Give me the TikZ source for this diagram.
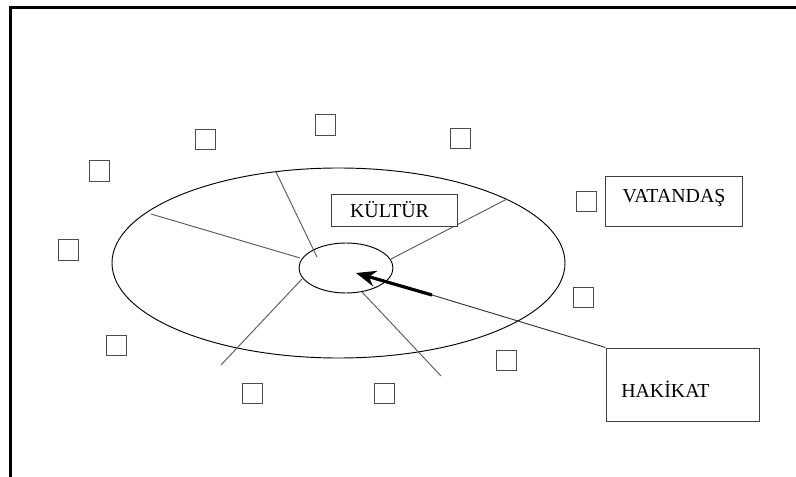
\documentclass[tikz,border=0pt]{standalone}
\usepackage{fontspec}
\setmainfont{Liberation Serif}
\usetikzlibrary{shapes.geometric,arrows.meta}
\begin{document}
\begin{tikzpicture}[x=0.75pt,y=-0.75pt,
  sq/.style={draw=black!70,line width=0.7pt,minimum width=15pt,minimum height=15.5pt,inner sep=0pt},
  box/.style={draw=black!75,line width=0.7pt,inner sep=0pt},
  lbl/.style={inner sep=0pt,font=\fontsize{14.9}{17}\selectfont},
  spoke/.style={draw=black!65,line width=0.7pt},
  ell/.style={ellipse,draw=black,line width=0.7pt,inner sep=0pt}]
\useasboundingbox (0,0) rectangle (796,477);
% frame
\coordinate (fbl) at (10.8,477);
\coordinate (ftl) at (10.8,7.5);
\coordinate (ftr) at (796,7.5);
\draw[line width=2.3pt] (fbl) -- (ftl) -- (ftr);
% ellipses
\node[ell,minimum width=339.75pt,minimum height=142.5pt] (outer) at (338.5,263) {};
\node[ell,minimum width=70.5pt,minimum height=37.5pt] (inner) at (346,268) {};
% spokes
\coordinate (s1a) at (151,214); \coordinate (s1b) at (300,258);
\coordinate (s2a) at (276,172); \coordinate (s2b) at (317,257);
\coordinate (s3a) at (507,199); \coordinate (s3b) at (391,259);
\coordinate (s4a) at (221,365); \coordinate (s4b) at (302,279);
\coordinate (s5a) at (441,376); \coordinate (s5b) at (362,292);
\draw[spoke] (s1a) -- (s1b);
\draw[spoke] (s2a) -- (s2b);
\draw[spoke] (s3a) -- (s3b);
\draw[spoke] (s4a) -- (s4b);
\draw[spoke] (s5a) -- (s5b);
% squares
\node[sq] (q1) at (99,171) {};
\node[sq] (q2) at (205,139.5) {};
\node[sq] (q3) at (325,125) {};
\node[sq] (q4) at (460,138.5) {};
\node[sq] (q5) at (586,201.5) {};
\node[sq] (q6) at (583,297.5) {};
\node[sq] (q7) at (506,360.5) {};
\node[sq] (q8) at (384,393.5) {};
\node[sq] (q9) at (252,393.5) {};
\node[sq] (q10) at (116.5,345.5) {};
\node[sq] (q11) at (68.5,250) {};
% boxes
\node[box,fill=white,minimum width=94.5pt,minimum height=24pt] (kbox) at (394,210) {};
\node[lbl,anchor=base] (ktext) at (389.5,218) {KÜLTÜR};
\node[box,minimum width=102.75pt,minimum height=37.5pt] (vbox) at (673.5,201) {};
\node[lbl,anchor=base] (vtext) at (674,203) {VATANDAŞ};
\node[box,minimum width=114.75pt,minimum height=54.75pt] (hbox) at (682.5,384.5) {};
\node[lbl,anchor=base west] (htext) at (621,397) {HAKİKAT};
% arrow
\coordinate (amid) at (432,295);
\coordinate (atip) at (356,273);
\draw[spoke,draw=black!80] (hbox.north west) -- (amid);
\draw[line width=2.4pt,-{Stealth[length=15pt,width=12pt,inset=5pt]}] (amid) -- (atip);
\end{tikzpicture}
\end{document}
